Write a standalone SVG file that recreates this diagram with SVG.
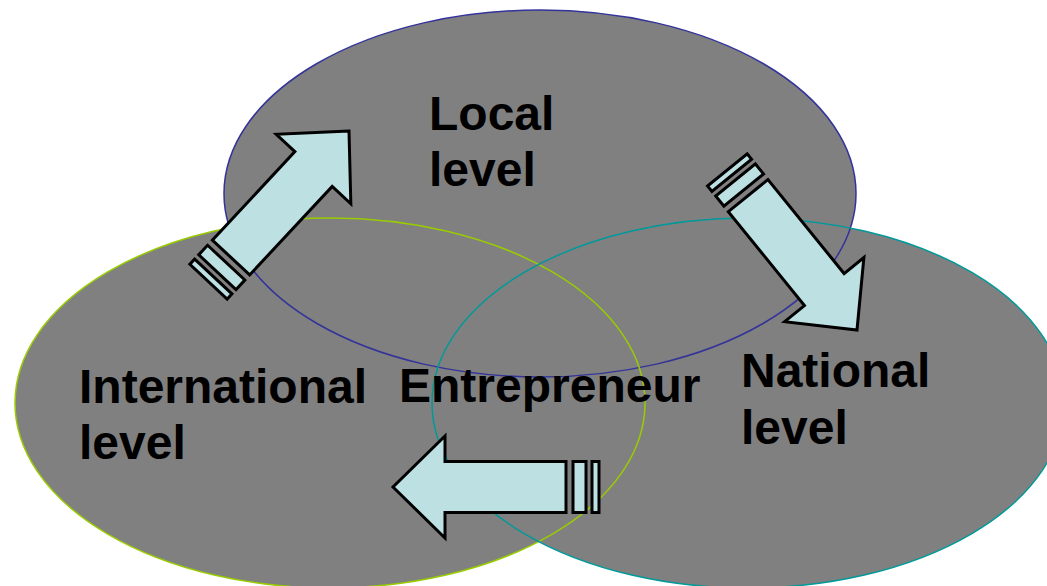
<svg xmlns="http://www.w3.org/2000/svg" width="1047" height="586" viewBox="0 0 1047 586">
<style>
.fill{fill:#808080;stroke:none}
.outline{fill:none;stroke-width:1.5}
.lbl{font-family:"Liberation Sans",Arial,sans-serif;font-weight:bold;font-size:48px;fill:#000}
.arr{fill:#bde0e3;stroke:#000;stroke-width:3;stroke-linejoin:miter}
</style>
<defs>
<g id="striped">
<path d="M0,0 L-52,-51 L-52,-25.5 L-173,-25.5 L-173,25.5 L-52,25.5 L-52,51 Z"/>
<rect x="-193" y="-25.5" width="13" height="51"/>
<rect x="-206" y="-25.5" width="7" height="51"/>
</g>
</defs>
<rect width="1047" height="586" fill="#fff"/>
<g id="local-level">
<ellipse class="fill" cx="540" cy="193.5" rx="316" ry="183.5"/>
</g>
<g id="international-level">
<ellipse class="fill" cx="330" cy="403" rx="315" ry="185"/>
</g>
<g id="national-level">
<ellipse class="fill" cx="748" cy="403" rx="316" ry="185"/>
</g>
<g id="outlines">
<ellipse class="outline" cx="540" cy="193.5" rx="316" ry="183.5" stroke="#333399"/>
<ellipse class="outline" cx="330" cy="403" rx="315" ry="185" stroke="#99cc00"/>
<ellipse class="outline" cx="748" cy="403" rx="316" ry="185" stroke="#009999"/>
</g>
<g id="connectors">
<use href="#striped" class="arr" transform="translate(349,131) rotate(-47)"/>
<use href="#striped" class="arr" transform="translate(857,330) rotate(51)"/>
<use href="#striped" class="arr" transform="translate(393,487) rotate(180)"/>
</g>
<g id="labels">
<text class="lbl" x="429" y="130">Local</text>
<text class="lbl" x="429" y="186">level</text>
<text class="lbl" x="79" y="403">International</text>
<text class="lbl" x="79" y="459">level</text>
<text class="lbl" x="399" y="402">Entrepreneur</text>
<text class="lbl" x="741" y="387">National</text>
<text class="lbl" x="741" y="444">level</text>
</g>
</svg>
